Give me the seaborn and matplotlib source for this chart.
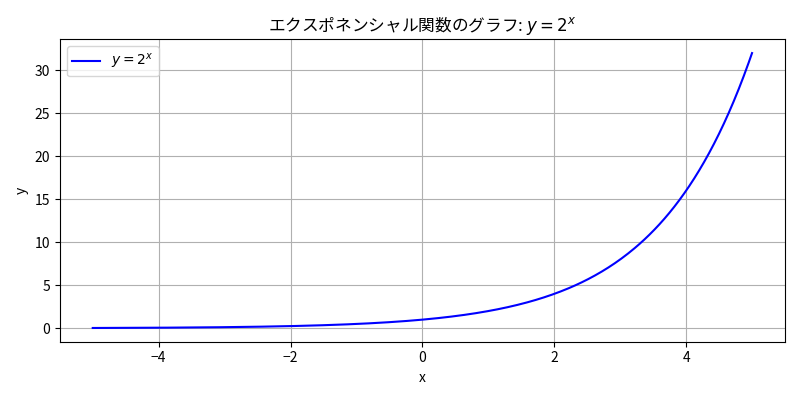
import numpy as np
import pandas as pd
import matplotlib
matplotlib.use("Agg")
import matplotlib.pyplot as plt
import seaborn as sns

# -------------------------
# Data: y = 2^x on [-5, 5]
# -------------------------
x_start, x_end = -5, 5
n_points = 400
base = 2

x = np.linspace(x_start, x_end, n_points)
y = np.power(base, x)
df = pd.DataFrame({"x": x, "y": y})

plt.rcParams['font.family'] = ['Noto Sans CJK JP', 'DejaVu Sans']
plt.rcParams['axes.unicode_minus'] = True

# -------------------------
# Plot
# -------------------------
fig, ax = plt.subplots(figsize=(8, 4), dpi=100)
sns.lineplot(data=df, x="x", y="y", color="blue", label=r"$y = 2^x$", ax=ax)

ax.set_title(r"エクスポネンシャル関数のグラフ: $y = 2^x$")
ax.set_xlabel("x")
ax.set_ylabel("y")
ax.grid(True)
ax.legend(loc="upper left")

plt.tight_layout()
plt.savefig("out.png")
